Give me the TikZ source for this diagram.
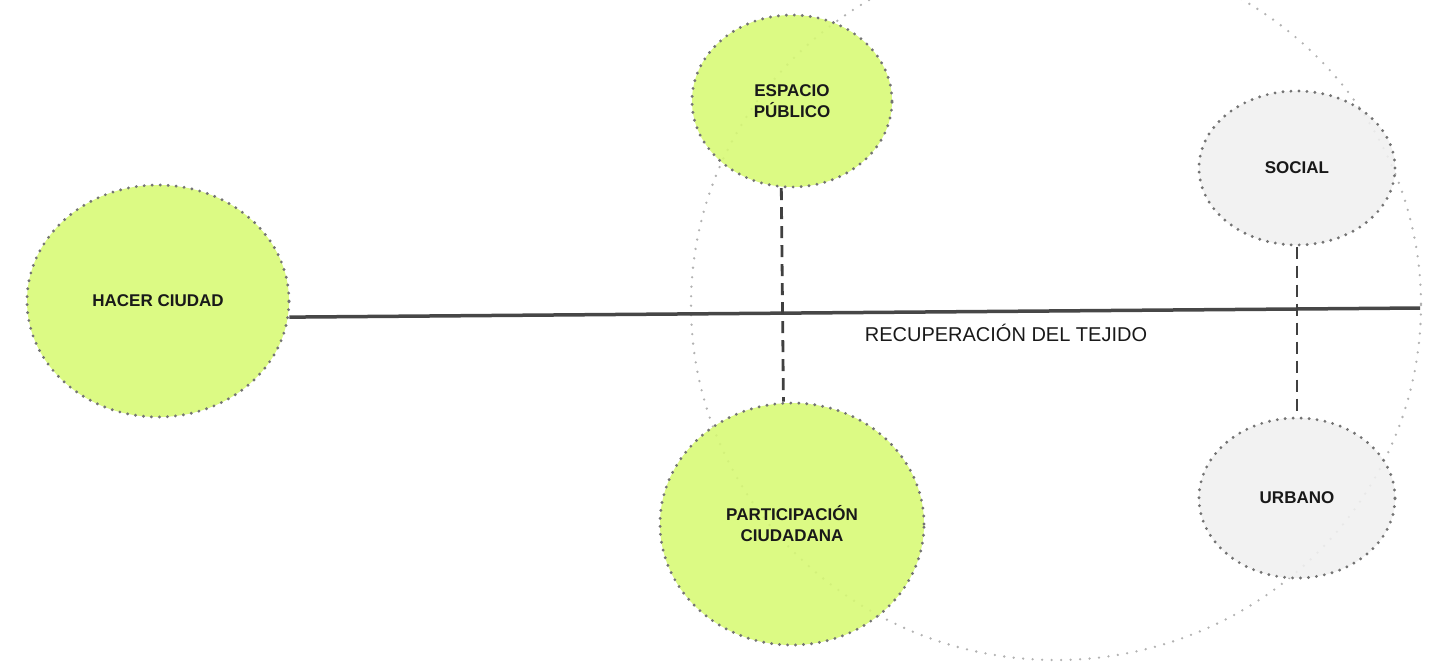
\documentclass[tikz,border=0pt]{standalone}
\usepackage{fontspec}
\setmainfont{Liberation Sans}
\usetikzlibrary{shapes.geometric}
\definecolor{lima}{RGB}{215,249,115}
\definecolor{niebla}{RGB}{240,240,240}

\begin{document}
\begin{tikzpicture}[x=1pt,y=-1pt,
    burbuja/.style={ellipse,inner sep=0pt,fill opacity=0.88,text opacity=1,text=black!90,
        draw=black!55,line width=3.2pt,line cap=round,dash pattern=on 0pt off 8pt,
        align=center,font=\bfseries\fontsize{17}{21}\selectfont},
    verde/.style={burbuja,fill=lima},
    gris/.style={burbuja,fill=niebla},
    enlace/.style={black!75,line width=2.8pt,dash pattern=on 12pt off 7pt}]
        \useasboundingbox (0,0) rectangle (1437,662);
        \draw[black!30,line width=2.6pt,line cap=round,dash pattern=on 0pt off 9.5pt] (1056,305) ellipse [x radius=365,y radius=355];
        \node[verde,minimum width=262,minimum height=232] (hacer) at (158,301) {HACER CIUDAD};
        \node[verde,minimum width=200,minimum height=172] (espacio) at (792,101) {ESPACIO\\PÚBLICO};
        \node[verde,minimum width=264,minimum height=242] (participacion) at (792,524) {PARTICIPACIÓN\\CIUDADANA};
        \node[gris,minimum width=196,minimum height=154] (social) at (1297,168) {SOCIAL};
        \node[gris,minimum width=196,minimum height=160] (urbano) at (1297,498) {URBANO};
        \coordinate (borde) at (1420,308);
        \draw[black!72,line width=3.5pt] (hacer.-7) -- (borde);
        \node[text=black!90,font=\fontsize{20}{24}\selectfont] (recuperacion) at (1006,333) {RECUPERACIÓN DEL TEJIDO};
        \draw[enlace] (espacio.263) -- (participacion.94);
        \draw[enlace] (social.south) -- (urbano.north);
    \end{tikzpicture}
\end{document}
